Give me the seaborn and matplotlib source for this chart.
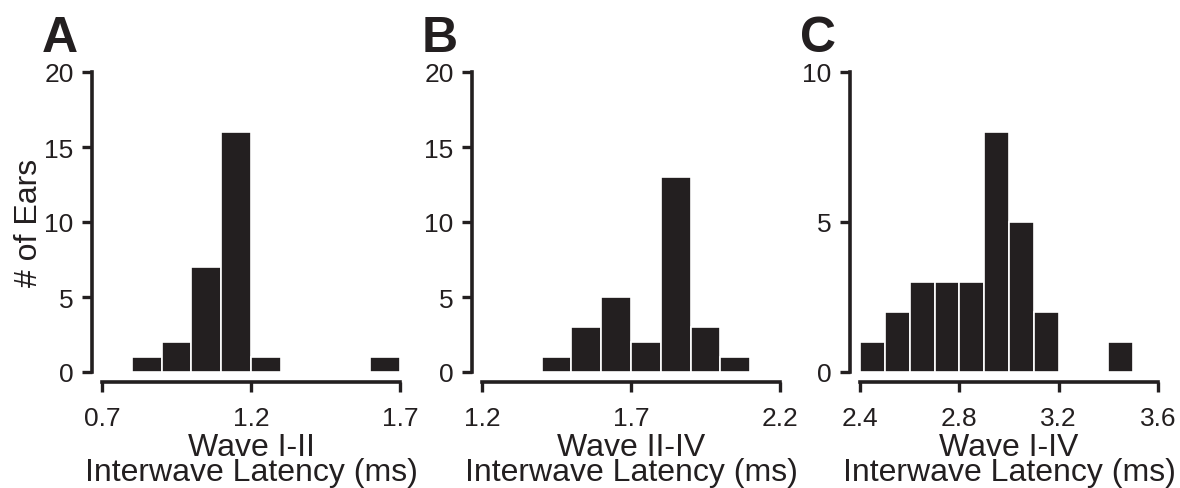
from matplotlib import pyplot as plt
import seaborn as sns
import numpy as np

# histogram bins (centres) and counts
waveI_II_centers = [0.85, 0.95, 1.05, 1.15, 1.25, 1.35, 1.45, 1.55, 1.65]
waveI_II_counts = [1, 2, 7, 16, 1, 0, 0, 0, 1]

waveII_IV_centers = [1.45, 1.55, 1.65, 1.75, 1.85, 1.95, 2.05]
waveII_IV_counts = [1, 3, 5, 2, 13, 3, 1]

waveI_IV_centers = [2.45, 2.55, 2.65, 2.75, 2.85, 2.95, 3.05, 3.15, 3.25, 3.35, 3.45]
waveI_IV_counts = [1, 2, 3, 3, 3, 8, 5, 2, 0, 0, 1]

LETTERS = ["A", "B", "C"]
XLABELS = ["Wave I-II", "Wave II-IV", "Wave I-IV"]
XTICKS = [[0.7, 1.2, 1.7], [1.2, 1.7, 2.2], [2.4, 2.8, 3.2, 3.6]]
XTICKLABELS = [["0.7", "1.2", "1.7"], ["1.2", "1.7", "2.2"], ["2.4", "2.8", "3.2", "3.6"]]
YTICKS = [[0, 5, 10, 15, 20], [0, 5, 10, 15, 20], [0, 5, 10]]
BINRANGES = [(0.8, 1.7), (1.4, 2.1), (2.4, 3.5)]

BAR = "#231f20"

sns.set_style("ticks")
plt.rcParams['font.family'] = ['Liberation Sans', 'DejaVu Sans']
plt.rcParams['axes.linewidth'] = 2.6
plt.rcParams['xtick.major.width'] = 2.4
plt.rcParams['ytick.major.width'] = 2.4
plt.rcParams['xtick.major.size'] = 7.5
plt.rcParams['ytick.major.size'] = 7.5
plt.rcParams['axes.edgecolor'] = BAR
plt.rcParams['xtick.color'] = BAR
plt.rcParams['ytick.color'] = BAR
plt.rcParams['text.color'] = BAR
plt.rcParams['axes.labelcolor'] = BAR

fig = plt.figure(figsize=(11.8, 4.89), dpi=100)
lefts = [102, 482, 860]
data = [(waveI_II_centers, waveI_II_counts), (waveII_IV_centers, waveII_IV_counts),
        (waveI_IV_centers, waveI_IV_counts)]

for i, (centers, counts) in enumerate(data):
    ax = fig.add_axes([lefts[i] / 1180, 1 - 373 / 489, 298 / 1180, 300 / 489])
    sns.histplot(x=centers, weights=counts, binwidth=0.1, binrange=BINRANGES[i],
                 color=BAR, edgecolor="white", linewidth=1.2, alpha=1, ax=ax)
    ax.set_xlim(XTICKS[i][0], XTICKS[i][-1])
    ax.set_ylim(0, YTICKS[i][-1])
    ax.set_xticks(XTICKS[i])
    ax.set_xticklabels(XTICKLABELS[i])
    ax.set_yticks(YTICKS[i])
    ax.set_yticklabels([str(t) for t in YTICKS[i]])
    ax.tick_params(axis="x", pad=10, labelsize=19)
    ax.tick_params(axis="y", pad=6, labelsize=19)
    ax.set_xlabel(XLABELS[i] + "\nInterwave Latency (ms)", fontsize=23,
                  linespacing=0.76, labelpad=1.5)
    if i == 0:
        ax.set_ylabel("# of Ears", fontsize=23, labelpad=0)
    else:
        ax.set_ylabel("")
    sns.despine(ax=ax, offset=7)
    fig.text((lefts[i] - 60) / 1180, 1 - 52 / 489, LETTERS[i], fontsize=36,
             fontweight="bold")

plt.savefig("out.png", dpi=100)
